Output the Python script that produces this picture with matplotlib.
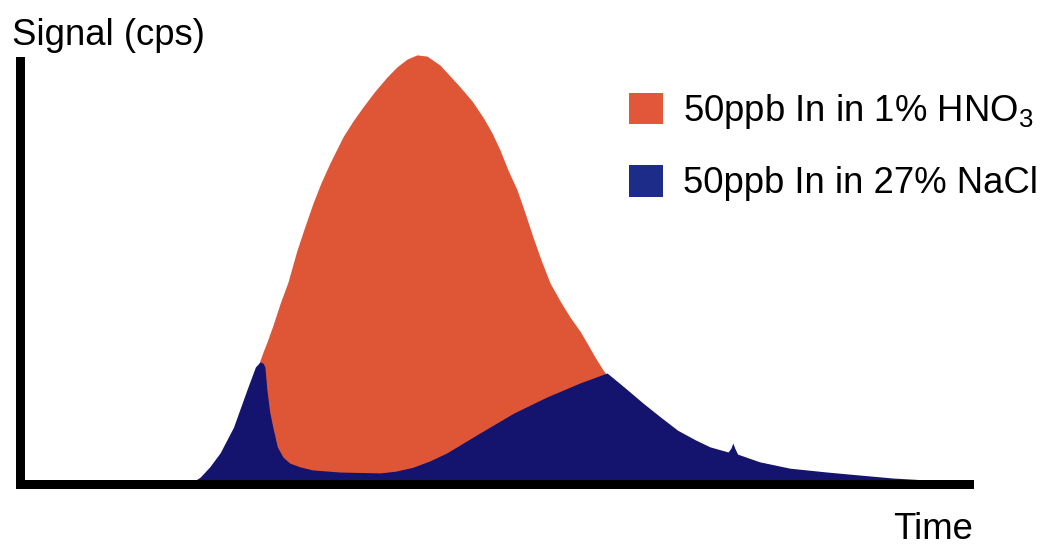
import matplotlib
matplotlib.use("Agg")
import matplotlib.pyplot as plt
from matplotlib.patches import Patch

plt.rcParams['font.family'] = ['Liberation Sans', 'DejaVu Sans']
plt.rcParams['mathtext.fontset'] = 'custom'
plt.rcParams['mathtext.rm'] = 'Liberation Sans'
plt.rcParams['mathtext.it'] = 'Liberation Sans:italic'

# Time axis (arbitrary units) and signal (arbitrary units, peak ~100)
hno3_time = [23.08, 23.92, 24.55, 24.97, 25.50, 25.92, 26.55, 27.28, 28.12, 29.07, 29.91, 30.75,
             31.58, 32.53, 33.89, 34.94, 35.99, 37.25, 38.51, 39.56, 40.61, 41.66, 42.71, 44.07,
             46.17, 47.43, 48.58, 49.53, 50.37, 51.21, 52.15, 52.99, 53.83, 54.67, 55.61, 56.66,
             57.71, 58.76, 59.50, 60.34, 61.18, 63.48, 66.11, 69.26, 73.45, 77.65]
hno3_signal = [0.0, 15.0, 23.2, 27.6, 30.9, 33.3, 37.2, 42.2, 47.3, 54.8, 60.4, 65.8,
               70.5, 75.2, 81.3, 85.0, 88.3, 92.0, 95.3, 97.7, 99.5, 100.5, 100.2, 98.1,
               93.0, 89.7, 85.9, 82.2, 78.2, 73.5, 68.9, 63.5, 57.8, 52.5, 47.1, 42.9,
               39.1, 35.8, 33.0, 29.7, 26.7, 19.7, 12.6, 5.6, 0.9, 0.0]

nacl_time = [0.0, 17.8, 18.9, 19.9, 21.0, 22.4, 23.8, 24.7, 25.2, 25.5, 25.7, 25.9, 26.2, 26.5,
             27.0, 27.6, 28.3, 29.4, 30.7, 33.6, 37.8, 39.4, 41.2, 43.0, 44.8, 48.3, 51.8, 55.3,
             58.8, 61.6, 63.5, 65.4, 67.2, 69.0, 70.9, 72.4, 74.3, 74.6, 74.8, 75.0, 75.3, 77.6,
             80.8, 84.7, 88.1, 91.6, 95.5, 98.6, 99.6]
nacl_signal = [0.0, 0.0, 1.6, 4.0, 7.3, 13.3, 22.0, 27.4, 28.6, 28.3, 27.4, 22.2, 16.9, 13.6,
               8.7, 6.3, 4.9, 4.0, 3.3, 2.8, 2.6, 3.0, 3.9, 5.4, 7.3, 12.0, 16.6, 20.4,
               23.7, 26.0, 22.5, 18.9, 15.7, 12.6, 10.3, 8.7, 7.5, 8.4, 9.6, 8.4, 7.0, 5.2,
               3.7, 2.8, 2.1, 1.4, 0.9, 0.5, 0.3]

series_labels = ['50ppb In in 1% HNO$_3$', '50ppb In in 27% NaCl']
series_colors = ['#DF5637', '#14146E']
legend_colors = ['#E2563A', '#1C2C88']

W, H = 1041, 547
fig = plt.figure(figsize=(W / 100, H / 100), dpi=100)
fig.patch.set_facecolor('white')

lw_px = 9
ax_left, ax_right = 20, 969
ax_bottom, ax_top = 484, 61
ax = fig.add_axes([ax_left / W, 1 - ax_bottom / H, (ax_right - ax_left) / W, (ax_bottom - ax_top) / H])

ax.fill_between(hno3_time, hno3_signal, 0, color=series_colors[0], lw=0, zorder=1, clip_on=False)
ax.fill_between(nacl_time, nacl_signal, 0, color=series_colors[1], lw=0, zorder=2, clip_on=False)

ax.set_xlim(0, 99.58)
ax.set_ylim(0, 99.06)
ax.set_xticks([])
ax.set_yticks([])
for s in ['top', 'right']:
    ax.spines[s].set_visible(False)
for s in ['left', 'bottom']:
    ax.spines[s].set_linewidth(lw_px * 72 / 100)
    ax.spines[s].set_color('black')
    ax.spines[s].set_capstyle('projecting')
    ax.spines[s].set_zorder(5)

fig.text(12 / W, 1 - 45 / H, 'Signal (cps)', fontsize=26.3, ha='left', va='baseline')
fig.text(973 / W, 1 - 539 / H, 'Time', fontsize=26.3, ha='right', va='baseline')

handles = [Patch(facecolor=c, edgecolor='none') for c in legend_colors]
leg = ax.legend(handles, series_labels, loc='upper left',
                bbox_to_anchor=(629 / W, 1 - 92 / H), bbox_transform=fig.transFigure,
                frameon=False, fontsize=26.3, handlelength=0.93, handleheight=0.96,
                handletextpad=0.55, labelspacing=0.93, borderpad=0, borderaxespad=0)

fig.savefig('out.png', dpi=100, facecolor='white')
